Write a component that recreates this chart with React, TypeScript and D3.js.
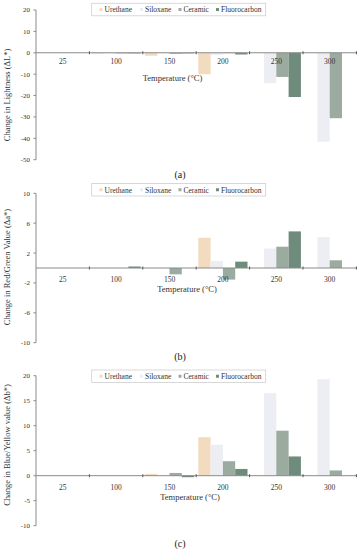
import React from "react";
import * as d3 from "d3";

const categories = ["25", "100", "150", "200", "250", "300"];
const seriesNames = ["Urethane", "Siloxane", "Ceramic", "Fluorocarbon"];
const seriesColors = ["#f2dbbf", "#eceef3", "#9bab9f", "#6f8b7c"];

// values per series, per category (null = no bar)
const deltaL = [
  [0, -0.4, -1.4, -10, null, null],
  [0, -0.3, -0.2, -1.0, -14.2, -41.6],
  [0, -0.3, -0.5, -0.2, -11.3, -30.6],
  [0, -0.3, -0.3, -0.8, -20.7, null],
];
const deltaA = [
  [0, 0, 0, 4.05, null, null],
  [0, 0, 0, 0.95, 2.6, 4.15],
  [0, 0, -0.85, -1.55, 2.85, 1.03],
  [0, 0.2, 0, 0.85, 4.9, null],
];
const deltaB = [
  [0, 0, 0.35, 7.7, null, null],
  [0, 0, 0, 6.2, 16.5, 19.3],
  [0, 0, 0.55, 2.9, 9.0, 1.05],
  [0, 0, -0.3, 1.35, 3.85, null],
];

const ticksL = [20, 10, 0, -10, -20, -30, -40, -50];
const ticksA = [10, 6, 2, -2, -6, -10];
const ticksB = [20, 15, 10, 5, 0, -5, -10];

const FONT = "'Liberation Serif', 'Times New Roman', serif";

type PanelProps = {
  top: number;
  yMin: number;
  yMax: number;
  yTop: number;
  yBottom: number;
  ticks: number[];
  data: (number | null)[][];
  yTitle: string;
  yTitleCenter: number;
  catLabelY: number;
  xTitleX: number;
  xTitleY: number;
  legendY: number;
  label: string;
  labelY: number;
};

function Panel(p: PanelProps) {
  const x0 = d3.scaleBand<string>().domain(categories).range([36, 356.4]).paddingInner(0).paddingOuter(0);
  const x1 = d3.scaleBand<string>().domain(seriesNames).range([0, x0.bandwidth()]).paddingOuter(0.17).paddingInner(0);
  const y = d3.scaleLinear().domain([p.yMin, p.yMax]).range([p.yBottom, p.yTop]);
  const zero = y(0);
  const axisColor = "#8a8a8a";
  const legendX = 91.7;
  const legendW = 174;
  const itemX = [101, 141.5, 180, 217.5];
  return (
    <g>
      {/* bars */}
      {p.data.map((vals, si) =>
        vals.map((v, ci) => {
          if (v === null || v === 0) return null;
          const bx = (x0(categories[ci]) as number) + (x1(seriesNames[si]) as number);
          const yy = Math.min(y(v), zero);
          const h = Math.abs(y(v) - zero);
          return <rect key={`${si}-${ci}`} x={bx} y={yy} width={x1.bandwidth()} height={h} fill={seriesColors[si]} />;
        })
      )}
      {/* y axis */}
      <line x1={36} x2={36} y1={p.yTop} y2={p.yBottom} stroke={axisColor} strokeWidth={1} />
      {p.ticks.map((t) => (
        <g key={t}>
          <line x1={33.5} x2={36} y1={y(t)} y2={y(t)} stroke={axisColor} strokeWidth={1} />
          <text x={30} y={y(t)} dy="0.35em" textAnchor="end" fontSize={7} fontFamily={FONT} fill="#333">
            {t}
          </text>
        </g>
      ))}
      {/* x axis */}
      <line x1={36} x2={357} y1={zero} y2={zero} stroke={axisColor} strokeWidth={1} />
      {categories.map((c, i) => (
        <g key={c}>
          {i > 0 && (
            <line x1={x0(c) as number} x2={x0(c) as number} y1={zero - 1.5} y2={zero + 1.5} stroke="#555" strokeWidth={1} />
          )}
          <text x={(x0(c) as number) + x0.bandwidth() / 2} y={p.catLabelY} dy="0.35em" textAnchor="middle" fontSize={7.5} fontFamily={FONT} fill="#333">
            {c}
          </text>
        </g>
      ))}
      <line x1={356.4} x2={356.4} y1={zero - 1.5} y2={zero + 1.5} stroke="#555" strokeWidth={1} />
      <text x={p.xTitleX} y={p.xTitleY} dy="0.35em" textAnchor="middle" fontSize={8.5} fontFamily={FONT} fill="#333">
        Temperature (°C)
      </text>
      <text
        transform={`translate(7,${p.yTitleCenter}) rotate(-90)`}
        dy="0.35em"
        textAnchor="middle"
        fontSize={8.5}
        fontFamily={FONT}
        fill="#333"
      >
        {p.yTitle}
      </text>
      {/* legend */}
      <rect x={legendX} y={p.legendY} width={legendW} height={12.5} fill="#fff" stroke="#cfcfcf" strokeWidth={0.8} />
      {seriesNames.map((s, i) => (
        <g key={s}>
          <rect x={itemX[i] - 1.5} y={p.legendY + 6.25 - 1.5} width={3} height={3} fill={seriesColors[i]} />
          <text x={itemX[i] + 3.5} y={p.legendY + 6.5} dy="0.35em" fontSize={7.5} fontFamily={FONT} fill="#333">
            {s}
          </text>
        </g>
      ))}
      <text x={180} y={p.labelY} dy="0.35em" textAnchor="middle" fontSize={10} fontFamily={FONT} fill="#222">
        {p.label}
      </text>
    </g>
  );
}

export default function App() {
  return (
    <svg width={360} height={550} style={{ position: "absolute", left: 0, top: 0, background: "#fff" }}>
      <rect x={0} y={0} width={360} height={550} fill="#fff" />
      <Panel
        top={0}
        yMin={-50}
        yMax={20}
        yTop={10}
        yBottom={159.7}
        ticks={ticksL}
        data={deltaL}
        yTitle="Change in Lightness (ΔL*)"
        yTitleCenter={95}
        catLabelY={61.7}
        xTitleX={172.5}
        xTitleY={77.7}
        legendY={3.3}
        label="(a)"
        labelY={174}
      />
      <Panel
        top={180}
        yMin={-10}
        yMax={10}
        yTop={193.3}
        yBottom={342.7}
        ticks={ticksA}
        data={deltaA}
        yTitle="Change in Red/Green Value (Δa*)"
        yTitleCenter={267}
        catLabelY={279}
        xTitleX={187}
        xTitleY={289.5}
        legendY={183.5}
        label="(b)"
        labelY={356}
      />
      <Panel
        top={360}
        yMin={-10}
        yMax={20}
        yTop={375.7}
        yBottom={525.7}
        ticks={ticksB}
        data={deltaB}
        yTitle="Change in Blue/Yellow value (Δb*)"
        yTitleCenter={445}
        catLabelY={487}
        xTitleX={190}
        xTitleY={497}
        legendY={370}
        label="(c)"
        labelY={543}
      />
    </svg>
  );
}
